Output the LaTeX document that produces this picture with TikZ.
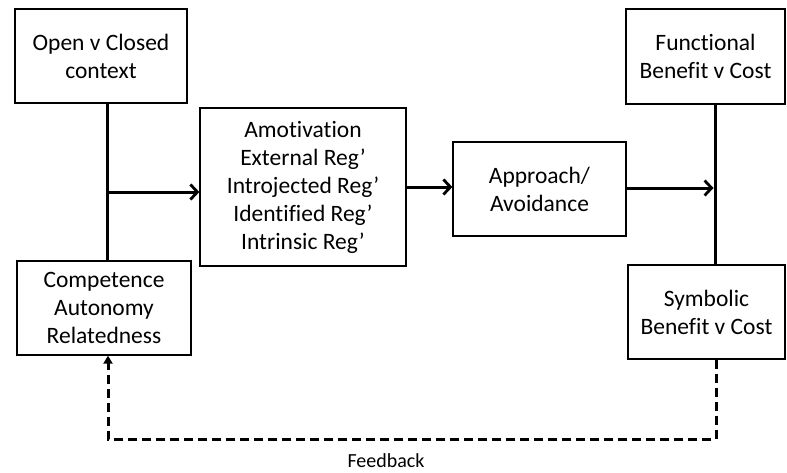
\documentclass[tikz,border=0pt]{standalone}
\usepackage{fontspec}
\setmainfont{Carlito}[Ligatures=NoCommon]
\usetikzlibrary{arrows.meta}
\begin{document}
\begin{tikzpicture}[x=1pt,y=-1pt,
  box/.style={draw=black,line width=1.3pt,fill=white,align=center,inner sep=0pt,
    font=\fontsize{23.5}{28}\selectfont},
  link/.style={line width=3pt,line cap=butt},
  arr/.style={link,-{Straight Barb[length=7pt,width=15pt,line width=2.8pt]}},
  fb/.style={line width=3pt,dash pattern=on 9pt off 5pt,
    -{Triangle[length=8pt,width=9pt]}}]
\useasboundingbox (0,0) rectangle (787,472);

% boxes
\node[box,minimum width=172pt,minimum height=94pt] (ctx) at (101,56) {Open v Closed\\context};
\node[box,minimum width=174pt,minimum height=94pt] (need) at (104,308) {Competence\\Autonomy\\Relatedness};
\node[box,minimum width=206pt,minimum height=158pt] (reg) at (303,187)
  {Amotivation\\External Reg’\\Introjected Reg’\\Identified Reg’\\Intrinsic Reg’};
\node[box,minimum width=173pt,minimum height=94pt] (appr) at (539.5,189) {Approach/\\Avoidance};
\node[box,minimum width=159pt,minimum height=95pt] (func) at (705.5,56.5) {Functional\\Benefit v Cost};
\node[box,minimum width=157pt,minimum height=94pt] (symb) at (706.5,312) {Symbolic\\Benefit v Cost};

% junction points
\coordinate (jl) at (107,192);
\coordinate (jr) at (715,188);
\coordinate (fr) at (716,439);
\coordinate (fl) at (108,439);

% connectors
\draw[link] (ctx.south -| jl) -- (need.north -| jl);
\draw[arr] (jl) -- (reg.west |- jl);
\draw[arr] (reg.east) -- (appr.west |- reg.east);
\draw[link] (func.south -| jr) -- (symb.north -| jr);
\draw[arr] (appr.east |- jr) -- ([xshift=-1.5pt]jr);
\draw[fb] (symb.south -| fr) -- (fr) -- (fl) -- (need.south -| fl);

\node[font=\fontsize{20}{22}\selectfont] (fbl) at (386,461) {Feedback};
\end{tikzpicture}
\end{document}
